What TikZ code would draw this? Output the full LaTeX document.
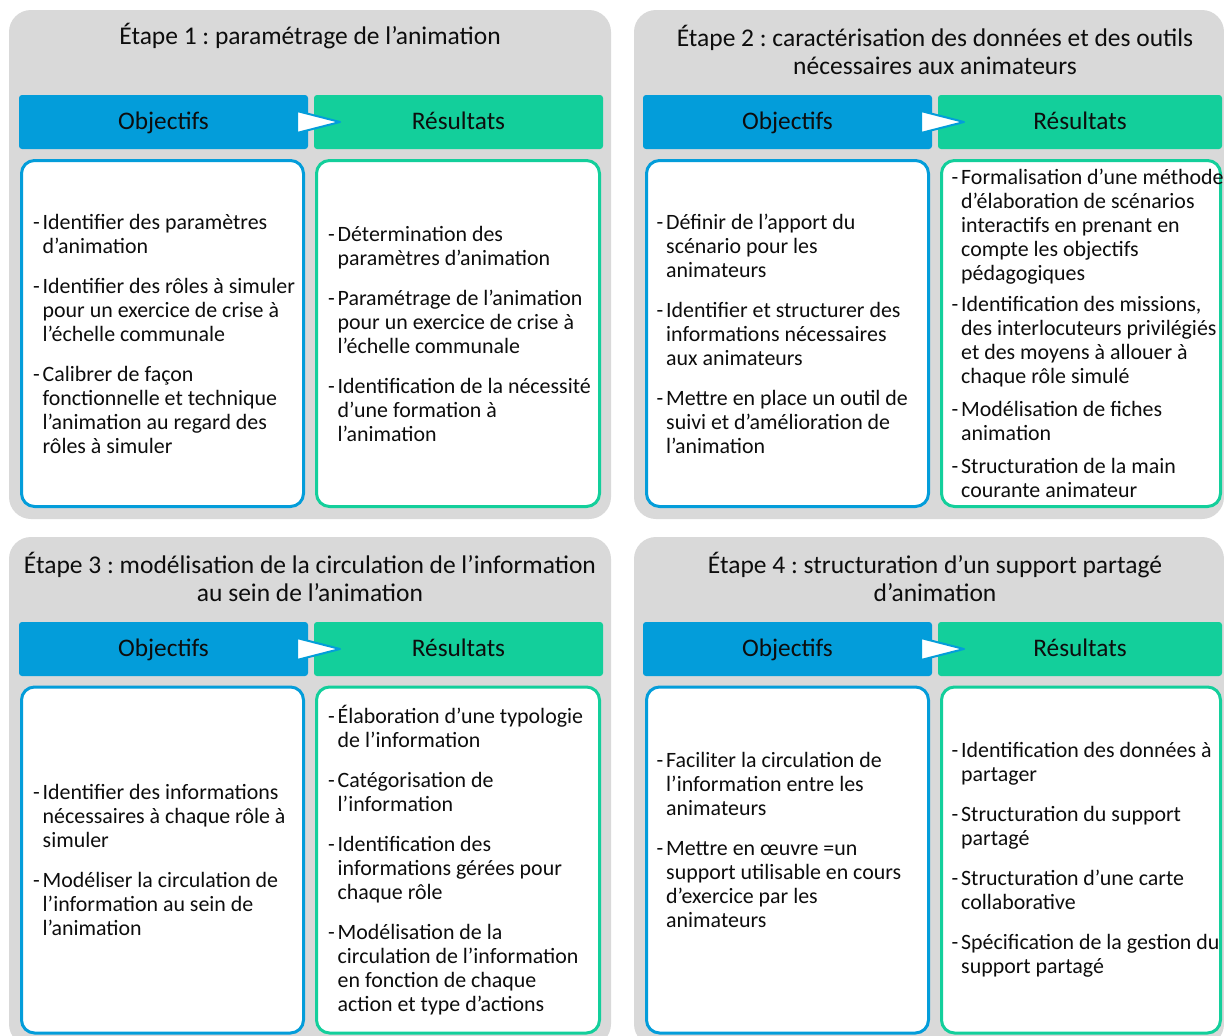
\documentclass[tikz,border=0pt]{standalone}
\usepackage{fontspec}
\setmainfont{Carlito}
\usetikzlibrary{calc}
\frenchspacing
\definecolor{cblue}{HTML}{039DDA}
\definecolor{cgreen}{HTML}{13CF9B}
\definecolor{cgray}{HTML}{D9D9D9}
\definecolor{ctext}{HTML}{0D0D0D}
\newcommand{\dsh}{\makebox[9.5pt][l]{-}}
\newcommand{\ind}{\hspace*{9.5pt}}
\tikzset{
  panelbg/.style={fill=cgray, draw=none, rounded corners=22pt, minimum height=509pt, inner sep=0pt, outer sep=0pt},
  ttl/.style={align=center, inner sep=0pt, text=ctext, font=\fontsize{25.5}{28}\selectfont},
  headbase/.style={rounded corners=3pt, minimum height=54pt, inner sep=0pt, outer sep=0pt, text height=18pt, text depth=2.6pt, text=ctext, font=\fontsize{25.3}{28}\selectfont},
  objhead/.style={headbase, fill=cblue},
  reshead/.style={headbase, fill=cgreen},
  objbox/.style={draw=cblue, fill=white, line width=3pt, rounded corners=13pt, minimum height=346pt, inner sep=0pt, outer sep=0pt},
  resbox/.style={draw=cgreen, fill=white, line width=3pt, rounded corners=13pt, minimum height=346pt, inner sep=0pt, outer sep=0pt},
  itemtext/.style={align=left, inner sep=0pt, anchor=west, text=ctext, font=\fontsize{21.9}{24}\selectfont},
  tri/.style={fill=white, draw=cblue, line width=2pt, line join=round}
}
\begin{document}
\begin{tikzpicture}[x=1pt,y=-1pt]
\useasboundingbox (0,0) rectangle (1224,1036);
\fill[white] (0,0) rectangle (1224,1036);
\clip (0,0) rectangle (1224,1036);

% ---------- Panel 1 ----------
\node[panelbg, minimum width=602pt] (g1) at (310,264.5) {};
\node[ttl] (t1) at (310,36) {Étape 1 : paramétrage de l’animation};
\node[objhead, minimum width=289pt] (oh1) at (163.5,122) {Objectifs};
\node[reshead, minimum width=289pt] (rh1) at (458.5,122) {Résultats};
\draw[tri] ($(oh1.east)+(-11,-11)$) -- ($(oh1.east)+(32,0)$) -- ($(oh1.east)+(-11,11)$) -- cycle;
\node[objbox, minimum width=282pt] (ob1) at (162.5,333.5) {};
\node[resbox, minimum width=283pt] (rb1) at (458,333.5) {};
\node[itemtext] (ot1) at ($(ob1.west)+(11.5,0)$) {%
\dsh Identifier des paramètres\\ \ind d’animation\\[16pt]
\dsh Identifier des rôles à simuler\\ \ind pour un exercice de crise à\\ \ind l’échelle communale\\[16pt]
\dsh Calibrer de façon\\ \ind fonctionnelle et technique\\ \ind l’animation au regard des\\ \ind rôles à simuler};
\node[itemtext] (rt1) at ($(rb1.west)+(11.5,0)$) {%
\dsh Détermination des\\ \ind paramètres d’animation\\[16pt]
\dsh Paramétrage de l’animation\\ \ind pour un exercice de crise à\\ \ind l’échelle communale\\[16pt]
\dsh Identification de la nécessité\\ \ind d’une formation à\\ \ind l’animation};

% ---------- Panel 2 ----------
\node[panelbg, minimum width=590pt] (g2) at (929,264.5) {};
\node[ttl] (t2) at (935,50) {Étape 2 : caractérisation des données et des outils\\nécessaires aux animateurs};
\node[objhead, minimum width=289pt] (oh2) at (787.5,122) {Objectifs};
\node[reshead, minimum width=284pt] (rh2) at (1080,122) {Résultats};
\draw[tri] ($(oh2.east)+(-11,-11)$) -- ($(oh2.east)+(32,0)$) -- ($(oh2.east)+(-11,11)$) -- cycle;
\node[objbox, minimum width=282pt] (ob2) at (787.5,333.5) {};
\node[resbox, minimum width=279pt] (rb2) at (1081,333.5) {};
\node[itemtext] (ot2) at ($(ob2.west)+(10,0)$) {%
\dsh Définir de l’apport du\\ \ind scénario pour les\\ \ind animateurs\\[16pt]
\dsh Identifier et structurer des\\ \ind informations nécessaires\\ \ind aux animateurs\\[16pt]
\dsh Mettre en place un outil de\\ \ind suivi et d’amélioration de\\ \ind l’animation};
\node[itemtext] (rt2) at ($(rb2.west)+(10,0)$) {%
\dsh Formalisation d’une méthode\\ \ind d’élaboration de scénarios\\ \ind interactifs en prenant en\\ \ind compte les objectifs\\ \ind pédagogiques\\[7pt]
\dsh Identification des missions,\\ \ind des interlocuteurs privilégiés\\ \ind et des moyens à allouer à\\ \ind chaque rôle simulé\\[9pt]
\dsh Modélisation de fiches\\ \ind animation\\[9pt]
\dsh Structuration de la main\\ \ind courante animateur};

% ---------- Panel 3 ----------
\node[panelbg, minimum width=602pt] (g3) at (310,791.5) {};
\node[ttl] (t3) at (310,577) {Étape 3 : modélisation de la circulation de l’information\\au sein de l’animation};
\node[objhead, minimum width=289pt] (oh3) at (163.5,649) {Objectifs};
\node[reshead, minimum width=289pt] (rh3) at (458.5,649) {Résultats};
\draw[tri] ($(oh3.east)+(-11,-11)$) -- ($(oh3.east)+(32,0)$) -- ($(oh3.east)+(-11,11)$) -- cycle;
\node[objbox, minimum width=282pt] (ob3) at (162.5,860) {};
\node[resbox, minimum width=283pt] (rb3) at (458,860) {};
\node[itemtext] (ot3) at ($(ob3.west)+(11.5,0)$) {%
\dsh Identifier des informations\\ \ind nécessaires à chaque rôle à\\ \ind simuler\\[16pt]
\dsh Modéliser la circulation de\\ \ind l’information au sein de\\ \ind l’animation};
\node[itemtext] (rt3) at ($(rb3.west)+(11.5,0)$) {%
\dsh Élaboration d’une typologie\\ \ind de l’information\\[16pt]
\dsh Catégorisation de\\ \ind l’information\\[16pt]
\dsh Identification des\\ \ind informations gérées pour\\ \ind chaque rôle\\[16pt]
\dsh Modélisation de la\\ \ind circulation de l’information\\ \ind en fonction de chaque\\ \ind action et type d’actions};

% ---------- Panel 4 ----------
\node[panelbg, minimum width=590pt] (g4) at (929,791.5) {};
\node[ttl] (t4) at (935,577) {Étape 4 : structuration d’un support partagé\\d’animation};
\node[objhead, minimum width=289pt] (oh4) at (787.5,649) {Objectifs};
\node[reshead, minimum width=284pt] (rh4) at (1080,649) {Résultats};
\draw[tri] ($(oh4.east)+(-11,-11)$) -- ($(oh4.east)+(32,0)$) -- ($(oh4.east)+(-11,11)$) -- cycle;
\node[objbox, minimum width=282pt] (ob4) at (787.5,860) {};
\node[resbox, minimum width=279pt] (rb4) at (1081,860) {};
\node[itemtext] (ot4) at ($(ob4.west)+(10,-20)$) {%
\dsh Faciliter la circulation de\\ \ind l’information entre les\\ \ind animateurs\\[16pt]
\dsh Mettre en œuvre =un\\ \ind support utilisable en cours\\ \ind d’exercice par les\\ \ind animateurs};
\node[itemtext] (rt4) at ($(rb4.west)+(10,0)$) {%
\dsh Identification des données à\\ \ind partager\\[16pt]
\dsh Structuration du support\\ \ind partagé\\[16pt]
\dsh Structuration d’une carte\\ \ind collaborative\\[16pt]
\dsh Spécification de la gestion du\\ \ind support partagé};
\end{tikzpicture}
\end{document}
